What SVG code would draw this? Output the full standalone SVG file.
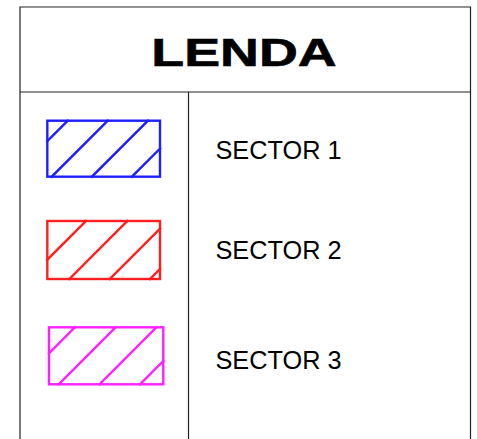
<svg xmlns="http://www.w3.org/2000/svg" width="477" height="439" viewBox="0 0 477 439">
<style>
.frame{fill:none;stroke:#222;stroke-width:1.2}
.sw{fill:none;stroke-width:2.4;stroke-linecap:square}
.lbl{font-family:"Liberation Sans",Arial,sans-serif;font-size:25.3px;fill:#000}
.title{font-family:"Liberation Sans",Arial,sans-serif;font-weight:bold;font-size:39px;fill:#000;stroke:#000;stroke-width:0.6}
</style>
<rect x="0" y="0" width="477" height="439" fill="#fff"/>
<g id="frame">
<polyline class="frame" points="20,439 20,7 470.5,7 470.5,439"/>
<line class="frame" x1="20" y1="92" x2="470.5" y2="92"/>
<line class="frame" x1="188.5" y1="92" x2="188.5" y2="439"/>
</g>
<g id="title">
<text class="title" text-anchor="middle" transform="translate(244,65.5) scale(1.38,1)">LENDA</text>
</g>
<g id="sector1">
<g class="sw" stroke="#1f1fff">
<rect x="47.3" y="120.7" width="112.7" height="56"/>
<line x1="47.3" y1="141.1" x2="67.7" y2="120.7"/>
<line x1="51.7" y1="176.7" x2="107.7" y2="120.7"/>
<line x1="91.9" y1="176.7" x2="147.9" y2="120.7"/>
<line x1="131.9" y1="176.7" x2="160" y2="148.6"/>
</g>
<text class="lbl" x="215.5" y="158.5">SECTOR 1</text>
</g>
<g id="sector2">
<g class="sw" stroke="#ff1f1f">
<rect x="47.3" y="221" width="112.7" height="58"/>
<line x1="47.3" y1="259.7" x2="86" y2="221"/>
<line x1="69.3" y1="279" x2="127.3" y2="221"/>
<line x1="109.7" y1="279" x2="160" y2="228.7"/>
<line x1="150" y1="279" x2="160" y2="269"/>
</g>
<text class="lbl" x="215.5" y="258.5">SECTOR 2</text>
</g>
<g id="sector3">
<g class="sw" stroke="#ff1fff">
<rect x="49" y="327.3" width="114.3" height="57"/>
<line x1="49" y1="353.3" x2="75" y2="327.3"/>
<line x1="58.7" y1="384.3" x2="115.7" y2="327.3"/>
<line x1="99.5" y1="384.3" x2="156.5" y2="327.3"/>
<line x1="140" y1="384.3" x2="163.3" y2="361"/>
</g>
<text class="lbl" x="215.5" y="368.5">SECTOR 3</text>
</g>
</svg>
